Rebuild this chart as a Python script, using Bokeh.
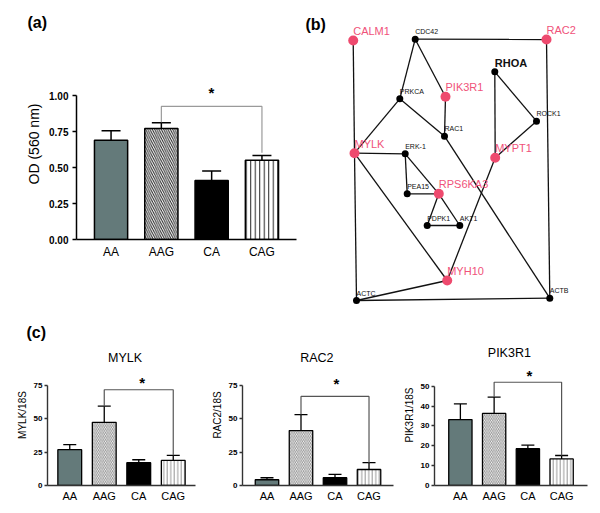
from bokeh.plotting import figure
from bokeh.layouts import column, row
from bokeh.models import (ColumnDataSource, FactorRange, Range1d, Whisker, TeeHead, Label,
                          NumeralTickFormatter, GraphRenderer, StaticLayoutProvider, Scatter, MultiLine)
from bokeh.core.properties import value
from bokeh.embed import file_html
from bokeh.resources import INLINE

FONT = "Liberation Sans"

# ---------------- data ----------------
groups = ["AA", "AAG", "CA", "CAG"]

# (a) OD (560 nm)
od_mean = [0.69, 0.77, 0.41, 0.55]
od_sem = [0.065, 0.04, 0.065, 0.033]

# (c) expression relative to 18S
mylk_mean = [26.9, 47.4, 17.1, 18.8]
mylk_sem = [3.7, 12.1, 2.2, 3.8]
rac2_mean = [4.3, 41.2, 5.8, 12.0]
rac2_sem = [1.5, 12.0, 2.5, 5.1]
pik3r1_mean = [33.2, 36.3, 18.5, 13.4]
pik3r1_sem = [7.9, 8.2, 1.8, 1.7]

# (b) network (drawing positions, y measured downward)
genes = ["CALM1", "CDC42", "RAC2", "RHOA", "PRKCA", "PIK3R1", "ROCK1", "RAC1", "MYLK",
         "ERK-1", "MYPT1", "PEA15", "RPS6KA3", "PDPK1", "AKT1", "MYH10", "ACTC", "ACTB"]
gene_x = [352.7, 414.7, 546.0, 494.3, 399.3, 445.0, 536.0, 444.0, 354.0,
          404.7, 494.7, 406.7, 438.3, 426.7, 459.3, 446.7, 356.0, 549.3]
gene_y = [40.0, 38.7, 39.0, 71.3, 98.3, 96.3, 120.7, 135.7, 152.7,
          153.3, 157.3, 193.3, 193.3, 225.0, 225.0, 280.0, 300.0, 297.7]
edge_from = ["CALM1", "CDC42", "CDC42", "CDC42", "RAC2", "RHOA", "RHOA", "ROCK1", "PRKCA",
             "PRKCA", "PIK3R1", "RAC1", "MYLK", "MYLK", "MYLK", "ERK-1", "ERK-1", "PEA15",
             "RPS6KA3", "RPS6KA3", "PDPK1", "MYPT1", "MYH10", "ACTC"]
edge_to = ["MYLK", "RAC2", "PRKCA", "PIK3R1", "ACTB", "ROCK1", "MYPT1", "MYPT1", "MYLK",
           "RAC1", "RAC1", "ACTB", "ERK-1", "MYH10", "ACTC", "PEA15", "RPS6KA3", "RPS6KA3",
           "PDPK1", "AKT1", "AKT1", "MYH10", "ACTC", "ACTB"]
highlighted = ["CALM1", "RAC2", "PIK3R1", "MYLK", "MYPT1", "RPS6KA3", "MYH10"]
bold_genes = ["RHOA"]

# ---------------- styles ----------------
bar_fill = ["#647a7a", "white", "black", "white"]
bar_hatch = ["left_diagonal_line", "left_diagonal_line", "left_diagonal_line", "vertical_line"]
bar_hatch_alpha = [0, 1, 0, 1]

PINK = "#ee4a6e"
PINK_TXT = "#f0527a"


def blank_fig(x0, y0, w, h):
    """Axis-less figure whose data coordinates equal page pixels (y negated)."""
    p = figure(width=w, height=h, x_range=Range1d(x0, x0 + w), y_range=Range1d(-(y0 + h), -y0),
               x_axis_type=None, y_axis_type=None, title=None, toolbar_location=None,
               output_backend="svg", min_border=0, frame_align=False,
               background_fill_color="white", border_fill_color="white")
    p.outline_line_color = None
    p.xgrid.visible = False
    p.ygrid.visible = False
    return p


def bar_panel(mean, sem, origin, size, borders, pad, ppu_y, yticks, ylabel, st):
    ox, oy = origin
    w, h = size
    bl, br, bt, bb = borders
    frame_w = w - bl - br
    frame_h = h - bt - bb
    ppu_x = frame_w / (len(groups) + 2 * pad)
    y_end = frame_h / ppu_y
    left_ref = ox + bl
    bottom_ref = oy + h - bb

    def to_data(px, py):
        return (-pad + (px - left_ref) / ppu_x, (bottom_ref - py) / ppu_y)

    upper = [m + s for m, s in zip(mean, sem)]
    src = ColumnDataSource(dict(group=groups, mean=mean, upper=upper, bar_fill=bar_fill,
                                bar_hatch=bar_hatch, bar_hatch_alpha=bar_hatch_alpha))
    p = figure(x_range=FactorRange(factors=groups, range_padding=pad, range_padding_units="absolute"),
               y_range=Range1d(0, y_end), width=w, height=h, title=None,
               toolbar_location=None, output_backend="svg", frame_align=False,
               min_border_left=bl, min_border_right=br, min_border_top=bt, min_border_bottom=bb,
               background_fill_color="white", border_fill_color="white")
    p.outline_line_color = None
    p.xgrid.visible = False
    p.ygrid.visible = False

    p.vbar(x="group", top="mean", width=st["bar_w"], source=src, fill_color="bar_fill",
           line_color="black", line_width=st["bar_lw"], hatch_pattern="bar_hatch",
           hatch_alpha="bar_hatch_alpha", hatch_color=st["hatch_color"],
           hatch_scale=st["hatch_scale"], hatch_weight=st["hatch_weight"])
    p.add_layout(Whisker(base="group", upper="upper", lower="mean", source=src,
                         line_color="black", line_width=st["err_lw"],
                         upper_head=TeeHead(size=st["cap"], line_color="black", line_width=st["err_lw"]),
                         lower_head=None))
    # significance bracket AAG vs CAG
    p.line(x=["AAG", "AAG", "CAG", "CAG"],
           y=[upper[1] + st["gap_l"], st["bracket_top"], st["bracket_top"], upper[3] + st["gap_r"]],
           line_color=st["bracket_color"], line_width=st["bracket_lw"])

    xa = p.xaxis[0]
    ya = p.yaxis[0]
    for ax in (xa, ya):
        ax.axis_line_color = st["axis_color"]
        ax.axis_line_width = st["axis_lw"]
        ax.minor_tick_line_color = None
        ax.major_label_text_font = FONT
        ax.major_label_text_color = "black"
    xa.major_tick_line_color = None
    xa.major_tick_out = 0
    xa.major_tick_in = 0
    xa.major_label_text_font_size = st["xtick_fs"]
    xa.major_label_standoff = st["xtick_standoff"]

    ya.ticker = yticks
    ya.bounds = (0, yticks[-1])
    if st.get("fmt"):
        ya.formatter = NumeralTickFormatter(format=st["fmt"])
    ya.major_tick_out = st["ytick_len"]
    ya.major_tick_in = 0
    ya.major_tick_line_color = st["axis_color"]
    ya.major_tick_line_width = st["axis_lw"]
    ya.major_label_text_font_style = "bold"
    ya.major_label_text_font_size = st["ytick_fs"]
    ya.major_label_standoff = st["ytick_standoff"]
    ya.axis_label = ylabel
    ya.axis_label_text_font = FONT
    ya.axis_label_text_font_style = "normal"
    ya.axis_label_text_font_size = st["ylabel_fs"]
    ya.axis_label_text_color = "black"
    ya.axis_label_standoff = st["ylabel_standoff"]
    return p, to_data


def add_text(p, xy, text, size, style="normal", align="center", color="black"):
    p.add_layout(Label(x=xy[0], y=xy[1], text=text, text_font=FONT, text_font_size=size,
                       text_font_style=style, text_align=align, text_baseline="middle",
                       text_color=color))


def strip_text(p, x, y, text, size, style="bold"):
    p.text(x=[x], y=[-y], text=[text], text_font=value(FONT), text_font_size=size,
           text_font_style=style, text_color="black", text_align="left", text_baseline="middle")


STAR_DY = 3.3  # asterisk sits above the middle of its em box

# ---------------- panel (a) ----------------
strip_a = blank_fig(0, 0, 300, 40)
strip_text(strip_a, 27, 22, "(a)", "16px")

st_a = dict(bar_w=0.66, bar_lw=1.5, hatch_color="#222222", hatch_scale=4.5, hatch_weight=1.0,
            err_lw=1.5, cap=19, gap_l=0.004, gap_r=0.02, bracket_top=0.924,
            bracket_color="#9a9a9a", bracket_lw=1.2, axis_color="black", axis_lw=1.5,
            xtick_fs="12px", xtick_standoff=5, ytick_len=4, ytick_fs="10px", ytick_standoff=4,
            ylabel_fs="14px", ylabel_standoff=4, fmt="0.00")
fa, map_a = bar_panel(od_mean, od_sem, (0, 40), (300, 268), (76, 4, 8, 69), 0.187, 144.0,
                      [0, 0.25, 0.5, 0.75, 1.0], "OD (560 nm)", st_a)
add_text(fa, map_a(211, 89 + STAR_DY), "*", "15px", style="bold")

# ---------------- panel (b) ----------------
fb = blank_fig(300, 0, 300, 308)
node_color = [PINK if g in highlighted else "black" for g in genes]
node_size = [10 if g in highlighted else 7 for g in genes]
graph = GraphRenderer()
graph.node_renderer.data_source.data = dict(index=genes, color=node_color, size=node_size)
graph.node_renderer.glyph = Scatter(marker="circle", size="size", fill_color="color", line_color=None)
graph.edge_renderer.data_source.data = dict(start=edge_from, end=edge_to)
graph.edge_renderer.glyph = MultiLine(line_color="#111111", line_width=1.3)
graph.layout_provider = StaticLayoutProvider(
    graph_layout={g: (x, -y) for g, x, y in zip(genes, gene_x, gene_y)})
fb.renderers.append(graph)

pink_lab = [(g, x, -y + 9.5) for g, x, y in zip(genes, gene_x, gene_y) if g in highlighted]
bold_lab = [(g, x, -y + 9.0) for g, x, y in zip(genes, gene_x, gene_y) if g in bold_genes]
small_lab = [(g, x, -y + 7.5) for g, x, y in zip(genes, gene_x, gene_y)
             if g not in highlighted and g not in bold_genes]
for labs, fs, col, sty in ((pink_lab, "11px", PINK_TXT, "normal"),
                           (bold_lab, "11px", "#111111", "bold"),
                           (small_lab, "7px", "#111111", "normal")):
    fb.text(x=[l[1] for l in labs], y=[l[2] for l in labs], text=[l[0] for l in labs],
            text_font=value(FONT), text_font_size=fs, text_color=col, text_font_style=sty,
            text_align="left", text_baseline="middle")
strip_text(fb, 305, 24, "(b)", "16px")

# ---------------- panel (c) ----------------
strip_c = blank_fig(0, 308, 600, 36)
strip_text(strip_c, 26, 332, "(c)", "16px")

st_c = dict(bar_w=0.69, bar_lw=1.3, hatch_color="#8a8a8a", hatch_scale=3.5, hatch_weight=0.9,
            err_lw=1.3, cap=13, gap_l=0.0, gap_r=0.0, bracket_top=71.8,
            bracket_color="#555555", bracket_lw=1.2, axis_color="#333333", axis_lw=1.4,
            xtick_fs="11px", xtick_standoff=4, ytick_len=3, ytick_fs="8px", ytick_standoff=2,
            ylabel_fs="10px", ylabel_standoff=3)

c1, map_c1 = bar_panel(mylk_mean, mylk_sem, (0, 344), (205, 166), (47, 10, 0, 25), 0.145,
                       100 / 75, [0, 25, 50, 75], "MYLK/18S", st_c)
c2, map_c2 = bar_panel(rac2_mean, rac2_sem, (205, 344), (195, 166), (37, 7, 0, 25), 0.22,
                       100 / 75, [0, 25, 50, 75], "RAC2/18S", dict(st_c, bracket_top=66.8))
c3, map_c3 = bar_panel(pik3r1_mean, pik3r1_sem, (400, 344), (200, 166), (31, 13, 0, 25), 0.267,
                       99.3 / 50, [0, 10, 20, 30, 40, 50], "PIK3R1/18S", dict(st_c, bracket_top=52.0))

add_text(c1, map_c1(124.5, 357), "MYLK", "12.5px")
add_text(c2, map_c2(316.3, 357), "RAC2", "12.5px")
add_text(c3, map_c3(507.3, 352), "PIK3R1", "12.5px")
add_text(c1, map_c1(141.7, 378.3 + STAR_DY), "*", "15px", style="bold")
add_text(c2, map_c2(336, 380 + STAR_DY), "*", "15px", style="bold")
add_text(c3, map_c3(527.7, 371.7 + STAR_DY), "*", "15px", style="bold")

layout = column(row(column(strip_a, fa), fb), strip_c, row(c1, c2, c3))
open("out.html", "w").write(file_html(layout, INLINE))
